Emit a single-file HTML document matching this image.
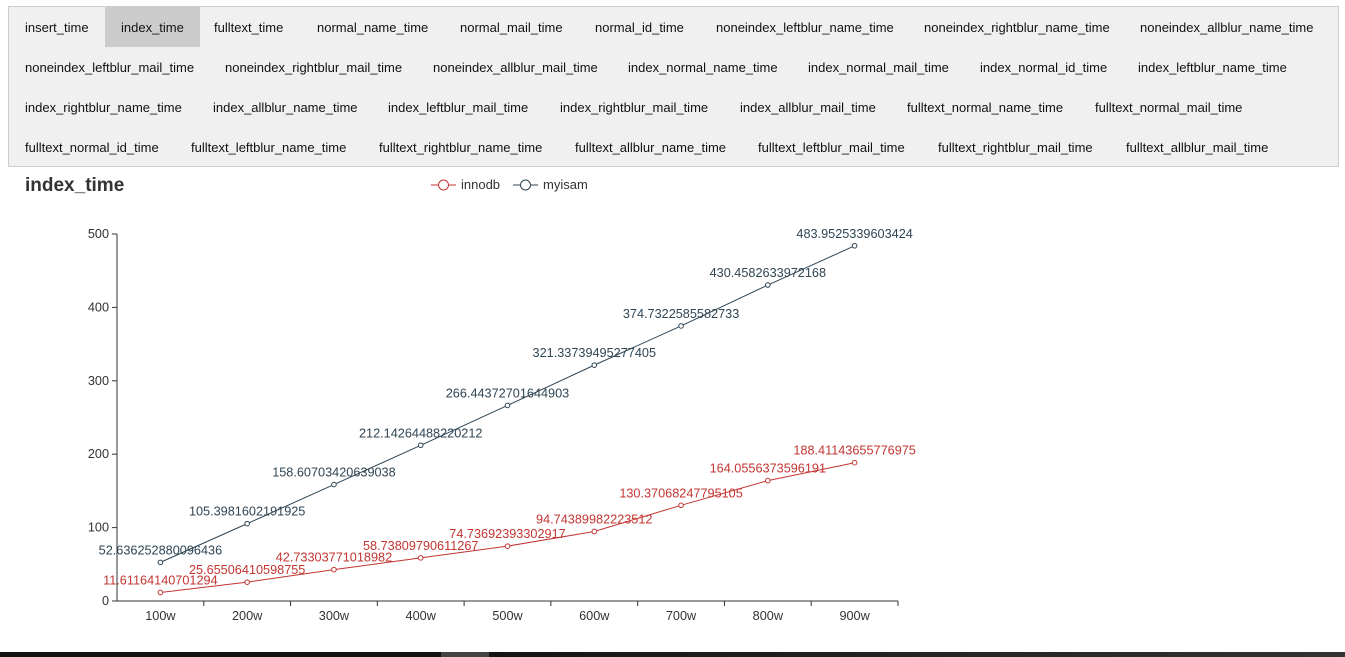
<!DOCTYPE html>
<html><head><meta charset="utf-8"><style>
body{margin:0;width:1345px;height:657px;background:#fff;font-family:"Liberation Sans",sans-serif;overflow:hidden;position:relative}
#tabs{position:absolute;left:8px;top:6px;width:1331px;height:161px;background:#f0f0f0;border:1px solid #ccc;box-sizing:border-box}
.tab{position:absolute;height:40px;line-height:42px;font-size:13px;color:#111;padding:0 16px;cursor:pointer}
.tab.active{background:#ccc}
#title{position:absolute;left:25px;top:175px;font-size:19px;font-weight:bold;color:#333}
#bottombar{position:absolute;left:0;top:652px;width:1345px;height:5px;background:linear-gradient(to right,#111 30%,#333)}
#thumb{position:absolute;left:441px;top:652px;width:48px;height:5px;background:#444}
</style></head><body>
<div id="tabs"></div>
<div id="title">index_time</div>
<svg id="chart" width="1345" height="657" style="position:absolute;left:0;top:0"></svg>
<div id="bottombar"></div>
<div id="thumb"></div>
<script>
const tabRows=[
[["insert_time",9],["index_time",105],["fulltext_time",198],["normal_name_time",301],["normal_mail_time",444],["normal_id_time",579],["noneindex_leftblur_name_time",700],["noneindex_rightblur_name_time",908],["noneindex_allblur_name_time",1124]],
[["noneindex_leftblur_mail_time",9],["noneindex_rightblur_mail_time",209],["noneindex_allblur_mail_time",417],["index_normal_name_time",612],["index_normal_mail_time",792],["index_normal_id_time",964],["index_leftblur_name_time",1122]],
[["index_rightblur_name_time",9],["index_allblur_name_time",197],["index_leftblur_mail_time",372],["index_rightblur_mail_time",544],["index_allblur_mail_time",724],["fulltext_normal_name_time",891],["fulltext_normal_mail_time",1079]],
[["fulltext_normal_id_time",9],["fulltext_leftblur_name_time",175],["fulltext_rightblur_name_time",363],["fulltext_allblur_name_time",559],["fulltext_leftblur_mail_time",742],["fulltext_rightblur_mail_time",922],["fulltext_allblur_mail_time",1110]]];
const tabs=document.getElementById('tabs');
tabRows.forEach((row,r)=>row.forEach(([t,x])=>{
 const d=document.createElement('div');d.className='tab'+(t==='index_time'?' active':'');
 d.style.left=(x-9)+'px';d.style.top=(r*40)+'px';d.textContent=t;
 
 
 tabs.appendChild(d);}));

const categories=["100w","200w","300w","400w","500w","600w","700w","800w","900w"];
const innodb=[11.61164140701294,25.65506410598755,42.73303771018982,58.73809790611267,74.73692393302917,94.74389982223512,130.37068247795105,164.0556373596191,188.41143655776975];
const myisam=[52.636252880096436,105.3981602191925,158.60703420639038,212.14264488220212,266.44372701644903,321.33739495277405,374.7322585582733,430.4582633972168,483.9525339603424];
const yTicks=[0,100,200,300,400,500];
const NS='http://www.w3.org/2000/svg',svg=document.getElementById('chart');
const x0=117,x1=898,y0=601,y1=234,yMax=500;
const bw=(x1-x0)/categories.length;
const xs=i=>x0+bw*(i+0.5), ys=v=>y0-(v/yMax)*(y0-y1);
function el(t,a,txt){const e=document.createElementNS(NS,t);for(const k in a)e.setAttribute(k,a[k]);if(txt!==undefined)e.textContent=txt;svg.appendChild(e);return e;}
let e;
e=el('line',{x1:x0,y1:y1,x2:x0,y2:y0,stroke:'#333'});

e=el('line',{x1:x0,y1:y0,x2:x1,y2:y0,stroke:'#333'});

yTicks.forEach(v=>{
 el('line',{x1:x0-5,y1:ys(v),x2:x0,y2:ys(v),stroke:'#333'});
 e=el('text',{x:x0-8,y:ys(v)+4,'text-anchor':'end','font-size':12.7,fill:'#333'},v);
 
});
categories.forEach((c,i)=>{
 el('line',{x1:x0+bw*(i+1),y1:y0,x2:x0+bw*(i+1),y2:y0+5,stroke:'#333'});
 e=el('text',{x:xs(i),y:y0+19,'text-anchor':'middle','font-size':12.7,fill:'#333'},c);
 
});
function series(vals,color,name){
 e=el('polyline',{points:vals.map((v,i)=>xs(i)+','+ys(v)).join(' '),fill:'none',stroke:color,'stroke-width':1});
 
 vals.forEach((v,i)=>{
  e=el('circle',{cx:xs(i),cy:ys(v),r:2.3,fill:'#fff',stroke:color});
  
  e=el('text',{x:xs(i),y:ys(v)-8,'text-anchor':'middle','font-size':12.7,fill:color},String(v));
  
 });
}
series(innodb,'#c23531','innodb');
series(myisam,'#2f4554','myisam');
[['innodb','#c23531',431],['myisam','#2f4554',513]].forEach(([n,c,x])=>{
 e=el('g',{});
 const l=document.createElementNS(NS,'line');l.setAttribute('x1',x);l.setAttribute('x2',x+25);l.setAttribute('y1',185);l.setAttribute('y2',185);l.setAttribute('stroke',c);e.appendChild(l);
 const ci=document.createElementNS(NS,'circle');ci.setAttribute('cx',x+12.5);ci.setAttribute('cy',185);ci.setAttribute('r',5);ci.setAttribute('fill','#fff');ci.setAttribute('stroke',c);e.appendChild(ci);
 const t=document.createElementNS(NS,'text');t.setAttribute('x',x+30);t.setAttribute('y',189);t.setAttribute('font-size',13);t.setAttribute('fill','#333');t.textContent=n;e.appendChild(t);
});
</script>
</body></html>
